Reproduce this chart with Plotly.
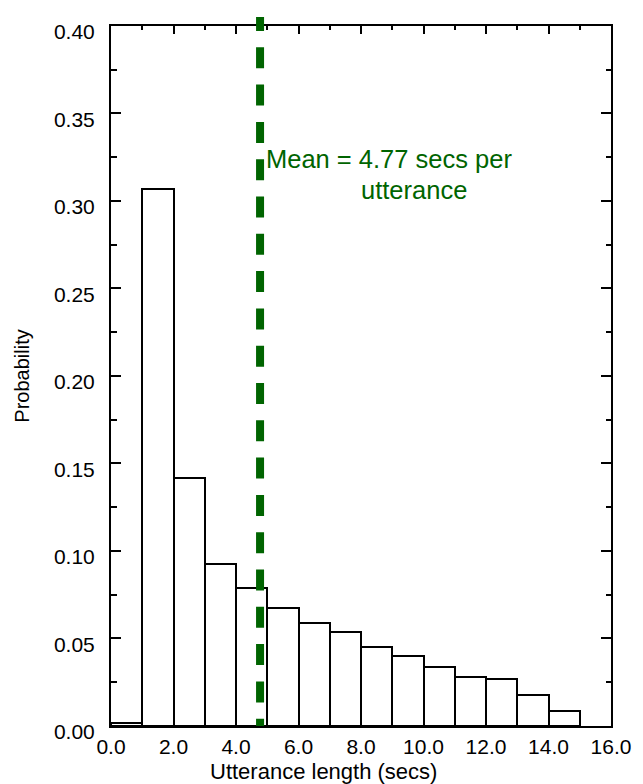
import plotly.graph_objects as go

# Data
BIN_LEFT = [0, 1, 2, 3, 4, 5, 6, 7, 8, 9, 10, 11, 12, 13, 14]
BIN_WIDTH = 1.0
PROBABILITY = [0.0018, 0.3069, 0.1420, 0.0925, 0.0789, 0.0676, 0.0591, 0.0537,
               0.0452, 0.0401, 0.0339, 0.0279, 0.0267, 0.0175, 0.0084]
MEAN = 4.77
X_RANGE = [0, 16]
Y_RANGE = [0, 0.40]
MEAN_LABEL_1 = "Mean = 4.77 secs per"
MEAN_LABEL_2 = "utterance"
X_TITLE = "Utterance length (secs)"
Y_TITLE = "Probability"

GREEN = "#006400"
FONT = "Liberation Sans, Arial, sans-serif"

# main y-axis occupies the lower part of the plotting area; a hidden
# companion axis pair spans slightly higher so the mean line can overshoot
MAIN_DOMAIN_TOP = 0.98741
Y2_RANGE = [0, Y_RANGE[1] / MAIN_DOMAIN_TOP]

fig = go.Figure()
fig.add_trace(go.Bar(
    x=BIN_LEFT, y=PROBABILITY, width=BIN_WIDTH, offset=0,
    marker=dict(color="white", line=dict(color="black", width=2)),
    showlegend=False, hoverinfo="x+y",
))

# mean line
fig.add_trace(go.Scatter(
    x=[MEAN, MEAN], y=[Y2_RANGE[1], 0], xaxis="x2", yaxis="y2",
    mode="lines", showlegend=False, hoverinfo="skip",
    line=dict(color=GREEN, width=8, dash="14px,16.3px" + ",21px,16.3px" * 19),
))

fig.add_annotation(x=MEAN, y=0.3237, xref="x", yref="y", xanchor="left",
                   yanchor="middle", xshift=5, text=MEAN_LABEL_1, showarrow=False,
                   borderpad=0, font=dict(family=FONT, size=25.5, color=GREEN))
fig.add_annotation(x=MEAN, y=0.3065, xref="x", yref="y", xanchor="center",
                   yanchor="middle", xshift=154, text=MEAN_LABEL_2, showarrow=False,
                   borderpad=0, font=dict(family=FONT, size=25.5, color=GREEN))

# x-axis title (centred on the figure rather than the plot area)
fig.add_annotation(x=0.424, y=-0.0637, xref="paper", yref="paper",
                   xanchor="center", yanchor="middle", text=X_TITLE,
                   showarrow=False, borderpad=0,
                   font=dict(family=FONT, size=22, color="black"))

fig.update_layout(
    width=643, height=784,
    margin=dict(l=110.7, r=29.7, t=11.7, b=57.5),
    paper_bgcolor="white", plot_bgcolor="rgba(0,0,0,0)",
    font=dict(family=FONT, size=21, color="black"),
    bargap=0,
    xaxis=dict(
        range=X_RANGE, dtick=2, tick0=0, tickformat=".1f",
        showline=True, linecolor="black", linewidth=2, mirror="ticks",
        ticks="inside", ticklen=8, tickwidth=1.5, tickcolor="black",
        showgrid=False, zeroline=False, ticklabelstandoff=1,
        minor=dict(dtick=1, ticks="inside", ticklen=4, tickwidth=1.5,
                   tickcolor="black", showgrid=False),
        tickfont=dict(size=21), anchor="y",
    ),
    yaxis=dict(
        range=Y_RANGE, domain=[0, MAIN_DOMAIN_TOP], dtick=0.05, tick0=0, tickformat=".2f",
        showline=True, linecolor="black", linewidth=2, mirror="ticks",
        ticks="inside", ticklen=10, tickwidth=1.5, tickcolor="black",
        showgrid=False, zeroline=False, ticklabelstandoff=10, ticklabelshift=6,
        minor=dict(dtick=0.025, ticks="inside", ticklen=5.5, tickwidth=1.5,
                   tickcolor="black", showgrid=False),
        title=dict(text=Y_TITLE, font=dict(size=20), standoff=19),
        tickfont=dict(size=21), anchor="x",
    ),
    xaxis2=dict(range=X_RANGE, visible=False, anchor="y2", domain=[0, 1]),
    yaxis2=dict(range=Y2_RANGE, visible=False, anchor="x2", domain=[0, 1]),
)

fig.write_html("out.html")
